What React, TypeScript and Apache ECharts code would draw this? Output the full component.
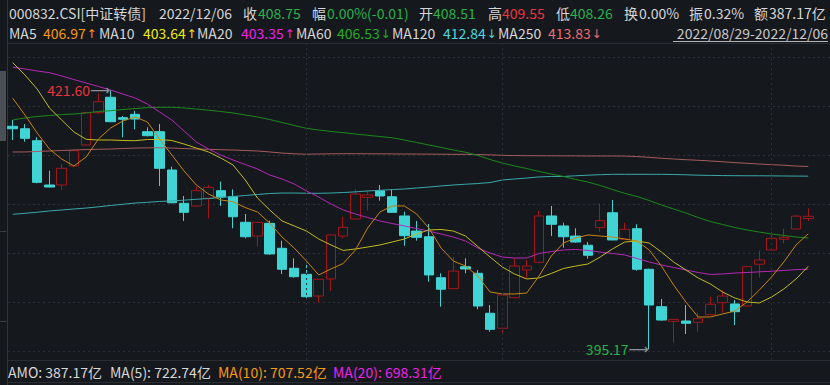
import React, { useEffect, useRef } from 'react';
import * as echarts from 'echarts';

const dates = [
  '2022-08-29', '2022-08-30', '2022-08-31',
  '2022-09-01', '2022-09-02', '2022-09-05', '2022-09-06', '2022-09-07', '2022-09-08', '2022-09-09',
  '2022-09-13', '2022-09-14', '2022-09-15', '2022-09-16', '2022-09-19', '2022-09-20', '2022-09-21',
  '2022-09-22', '2022-09-23', '2022-09-26', '2022-09-27', '2022-09-28', '2022-09-29', '2022-09-30',
  '2022-10-10', '2022-10-11', '2022-10-12', '2022-10-13', '2022-10-14', '2022-10-17', '2022-10-18',
  '2022-10-19', '2022-10-20', '2022-10-21', '2022-10-24', '2022-10-25', '2022-10-26', '2022-10-27',
  '2022-10-28', '2022-10-31',
  '2022-11-01', '2022-11-02', '2022-11-03', '2022-11-04', '2022-11-07', '2022-11-08', '2022-11-09',
  '2022-11-10', '2022-11-11', '2022-11-14', '2022-11-15', '2022-11-16', '2022-11-17', '2022-11-18',
  '2022-11-21', '2022-11-22', '2022-11-23', '2022-11-24', '2022-11-25', '2022-11-28', '2022-11-29',
  '2022-11-30',
  '2022-12-01', '2022-12-02', '2022-12-05', '2022-12-06',
];

const opens = [
  417.93, 417.68, 416.46, 411.94, 411.94, 413.88, 416.02, 419.32, 420.89, 418.81,
  419.15, 417.38, 417.38, 413.47, 410.07, 409.80, 410.58, 411.36, 410.74, 408.13,
  406.73, 408.03, 405.48, 403.44, 402.83, 400.61, 402.35, 406.73, 408.47, 410.68,
  411.36, 410.74, 408.78, 407.24, 406.66, 402.48, 401.36, 403.60, 402.93, 398.85,
  397.32, 400.44, 403.27, 404.05, 408.78, 407.76, 406.73, 405.79, 407.58, 409.11,
  406.40, 407.48, 403.34, 399.52, 398.03, 398.06, 397.93, 398.70, 399.93, 399.80,
  399.59, 403.85, 405.31, 406.40, 407.45, 408.51,
];
const closes = [
  417.68, 416.70, 412.21, 411.73, 413.64, 415.44, 419.32, 420.44, 418.40, 418.64,
  418.67, 416.97, 413.64, 410.13, 409.15, 411.36, 411.70, 410.74, 408.70, 406.66,
  408.13, 404.90, 403.34, 402.58, 400.54, 402.32, 406.84, 407.62, 411.02, 410.92,
  410.82, 409.15, 406.77, 406.60, 402.76, 401.30, 403.16, 403.37, 399.59, 397.21,
  400.71, 403.67, 403.67, 408.78, 407.93, 406.66, 406.12, 404.77, 408.30, 406.33,
  407.42, 403.34, 399.69, 398.16, 398.23, 397.83, 398.30, 399.77, 400.61, 399.01,
  403.60, 404.29, 406.50, 406.60, 408.76, 408.75,
];
const lows = [
  416.53, 416.36, 412.11, 411.70, 411.43, 413.81, 415.95, 419.18, 418.35, 416.81,
  417.62, 416.90, 411.84, 410.07, 408.27, 409.75, 408.54, 409.80, 407.52, 406.50,
  405.64, 404.80, 402.86, 402.48, 400.31, 399.93, 401.15, 406.50, 408.45, 409.32,
  410.34, 409.10, 405.74, 406.26, 402.07, 399.52, 401.33, 402.93, 399.26, 396.97,
  396.87, 400.40, 402.42, 404.00, 406.73, 405.54, 406.05, 404.42, 407.17, 406.30,
  406.33, 403.19, 395.17, 398.09, 395.85, 396.73, 396.97, 398.65, 398.91, 397.65,
  399.55, 402.48, 405.28, 405.99, 407.40, 408.26,
];
const highs = [
  418.57, 418.16, 416.81, 413.40, 414.08, 415.58, 419.40, 421.30, 421.60, 418.98,
  419.49, 417.83, 418.16, 413.81, 410.82, 411.77, 411.94, 412.28, 411.50, 408.98,
  408.16, 408.30, 406.26, 404.46, 404.01, 402.35, 406.90, 408.70, 411.50, 411.36,
  411.94, 411.43, 409.21, 408.27, 407.96, 402.93, 404.62, 404.46, 403.27, 399.69,
  400.75, 404.46, 404.29, 409.29, 409.80, 408.09, 407.52, 406.12, 410.07, 410.41,
  408.09, 407.93, 403.40, 400.31, 398.25, 399.69, 398.95, 400.54, 401.22, 400.20,
  403.67, 405.23, 407.17, 407.48, 408.88, 409.55,
];

const ma5 = [
  420.79, 419.08, 417.24, 415.61, 414.59, 413.88, 414.80, 416.63, 417.76, 418.47,
  418.88, 418.37, 416.63, 415.00, 413.37, 411.94, 411.02, 410.41, 410.23, 409.64,
  409.18, 408.06, 406.63, 405.51, 404.18, 402.76, 403.37, 403.93, 405.31, 407.55,
  409.18, 409.80, 409.80, 408.98, 407.55, 405.51, 404.18, 403.67, 402.65, 401.02,
  400.82, 400.82, 400.92, 402.65, 404.69, 406.02, 406.53, 406.84, 406.73, 406.63,
  406.43, 406.22, 405.31, 403.67, 401.73, 400.00, 398.47, 398.47, 398.78, 399.08,
  400.00, 401.22, 402.55, 404.08, 405.82, 406.97,
];
const ma10 = [
  424.42, 423.16, 421.73, 419.80, 418.57, 417.35, 416.60, 416.53, 416.53, 416.48,
  416.46, 416.58, 416.58, 416.48, 416.12, 415.71, 415.31, 414.69, 413.98, 412.45,
  410.61, 409.39, 408.27, 407.76, 407.24, 406.43, 405.82, 405.26, 405.41, 405.61,
  405.82, 406.12, 406.43, 406.94, 407.35, 407.40, 407.24, 406.73, 405.66, 404.59,
  403.57, 402.86, 402.35, 402.45, 402.91, 403.42, 403.67, 403.88, 404.59, 405.41,
  406.12, 406.22, 406.02, 405.10, 404.08, 403.27, 402.45, 401.84, 401.02, 400.41,
  400.00, 399.90, 400.51, 401.33, 402.35, 403.64,
];
const ma20 = [
  423.95, 423.78, 423.57, 423.40, 423.06, 422.70, 422.35, 421.99, 421.63, 421.22,
  420.82, 420.20, 419.39, 418.57, 417.45, 416.33, 415.61, 415.00, 414.49, 414.03,
  413.57, 412.96, 412.55, 412.04, 411.33, 410.71, 410.00, 409.39, 408.98, 408.62,
  408.27, 408.01, 407.76, 407.50, 407.24, 406.94, 406.63, 406.22, 405.51, 405.00,
  404.59, 404.49, 404.49, 404.95, 405.15, 405.31, 405.36, 405.26, 405.10, 404.95,
  404.80, 404.44, 404.08, 403.78, 403.52, 403.27, 403.01, 402.81, 402.86, 402.96,
  403.01, 403.08, 403.14, 403.22, 403.30, 403.35,
];
const ma60 = [
  418.57, 418.78, 418.93, 419.03, 419.13, 419.18, 419.29, 419.44, 419.52, 419.64,
  419.74, 419.83, 419.87, 419.87, 419.80, 419.69, 419.57, 419.44, 419.29, 419.08,
  418.88, 418.62, 418.32, 418.01, 417.72, 417.55, 417.40, 417.28, 417.14, 417.01,
  416.89, 416.76, 416.53, 416.28, 416.02, 415.77, 415.51, 415.28, 414.95, 414.54,
  414.18, 413.88, 413.62, 413.32, 413.06, 412.81, 412.50, 412.24, 411.89, 411.48,
  411.09, 410.77, 410.36, 409.90, 409.49, 409.08, 408.62, 408.21, 407.91, 407.60,
  407.35, 407.14, 406.94, 406.79, 406.63, 406.53,
];
const ma120 = [
  408.95, 409.05, 409.16, 409.29, 409.39, 409.49, 409.59, 409.71, 409.85, 409.97,
  410.10, 410.17, 410.26, 410.31, 410.39, 410.48, 410.56, 410.66, 410.77, 410.87,
  410.97, 411.07, 411.12, 411.12, 411.10, 411.09, 411.12, 411.17, 411.24, 411.33,
  411.40, 411.47, 411.53, 411.63, 411.73, 411.84, 411.94, 412.02, 412.09, 412.19,
  412.45, 412.55, 412.65, 412.76, 412.81, 412.81, 412.88, 412.94, 412.99, 413.03,
  413.03, 413.03, 413.03, 413.03, 413.01, 412.98, 412.94, 412.92, 412.90, 412.89,
  412.88, 412.88, 412.87, 412.86, 412.85, 412.84,
];
const ma250 = [
  415.31, 415.31, 415.36, 415.41, 415.46, 415.51, 415.56, 415.58, 415.61, 415.66,
  415.71, 415.73, 415.74, 415.71, 415.66, 415.61, 415.58, 415.54, 415.51, 415.46,
  415.41, 415.31, 415.20, 415.12, 415.08, 415.10, 415.12, 415.13, 415.13, 415.13,
  415.12, 415.11, 415.10, 415.10, 415.09, 415.08, 415.07, 415.07, 415.05, 415.01,
  414.97, 414.94, 414.93, 414.92, 414.92, 414.91, 414.91, 414.90, 414.90, 414.90,
  414.89, 414.84, 414.76, 414.67, 414.59, 414.52, 414.46, 414.39, 414.31, 414.22,
  414.15, 414.08, 414.01, 413.96, 413.87, 413.83,
];

const monthStarts = ['2022-10-10', '2022-11-01', '2022-12-01'];
const gridTicks = { min: 395, max: 425, step: 5 };

const BG = '#15181d';
const RED = '#a3171b';
const CYAN = '#40d4d4';
const TXT = '#d6d6d6';
const GREEN_TXT = '#27b24a';
const RED_TXT = '#ec3340';
const FONT = '"Noto Sans CJK SC", "Microsoft YaHei", sans-serif';
const GRIDLINE = '#2c3038';
const SEP = '#2a2d33';

const lineColors = ['#c98512', '#c2bb22', '#b629b6', '#1d8a1d', '#3aa9ad', '#a65b5b'];
const textColors = ['#f59a14', '#eded0c', '#ee22ee', '#22ad22', '#4fd7de', '#ec6e6e'];

function txt(x: number, y: number, text: string, fill: string, extra: any = {}) {
  return {
    type: 'text',
    x,
    y,
    silent: true,
    style: { text, fill, font: `14px ${FONT}`, verticalAlign: 'middle', align: 'left', ...extra },
  };
}

export default function App() {
  const ref = useRef<HTMLDivElement>(null);
  useEffect(() => {
    const chart = echarts.init(ref.current!, null, { renderer: 'svg' });
    const candleData = dates.map((_, i) => [opens[i], closes[i], lows[i], highs[i]]);
    const hiIdx = highs.indexOf(Math.max(...highs));
    const loIdx = lows.indexOf(Math.min(...lows));
    const last = (a: number[]) => a[a.length - 1].toFixed(2);
    const trend = (a: number[]) => (a[a.length - 1] >= a[a.length - 2] ? '↑' : '↓');

    const maNames = ['MA5', 'MA10', 'MA20', 'MA60', 'MA120', 'MA250'];
    const maArrs = [ma5, ma10, ma20, ma60, ma120, ma250];
    const maLabelX = [9, 99, 197, 296, 392, 498];
    const maValX = [43, 143, 241, 337, 443, 548];

    const graphics: any[] = [
      { type: 'line', silent: true, shape: { x1: 8, y1: 43.5, x2: 830, y2: 43.5 }, style: { stroke: SEP, lineWidth: 1 } },
      { type: 'line', silent: true, shape: { x1: 8, y1: 360.5, x2: 830, y2: 360.5 }, style: { stroke: SEP, lineWidth: 1 } },
      { type: 'line', silent: true, shape: { x1: 8, y1: 382.5, x2: 830, y2: 382.5 }, style: { stroke: SEP, lineWidth: 1 } },
      { type: 'line', silent: true, shape: { x1: 7.5, y1: 0, x2: 7.5, y2: 385 }, style: { stroke: '#30343b', lineWidth: 1 } },
      { type: 'rect', silent: true, shape: { x: 0, y: 71, width: 6, height: 70 }, style: { fill: '#4a4e55' } },
      { type: 'line', silent: true, shape: { x1: 0, y1: 231.5, x2: 6, y2: 231.5 }, style: { stroke: '#3a3e45', lineWidth: 1 } },
      { type: 'line', silent: true, shape: { x1: 0, y1: 321.5, x2: 6, y2: 321.5 }, style: { stroke: '#3a3e45', lineWidth: 1 } },
      txt(9, 12.5, '000832.CSI[中证转债]', TXT),
      txt(159, 12.5, '2022/12/06', TXT),
      txt(243, 12.5, '收', TXT),
      txt(258, 12.5, closes[closes.length - 1].toFixed(2), GREEN_TXT),
      txt(312, 12.5, '幅', TXT),
      txt(327, 12.5, '0.00%(-0.01)', GREEN_TXT),
      txt(419, 12.5, '开', TXT),
      txt(433, 12.5, opens[opens.length - 1].toFixed(2), GREEN_TXT),
      txt(488, 12.5, '高', TXT),
      txt(502, 12.5, highs[highs.length - 1].toFixed(2), RED_TXT),
      txt(556, 12.5, '低', TXT),
      txt(570, 12.5, lows[lows.length - 1].toFixed(2), GREEN_TXT),
      txt(624, 12.5, '换', TXT),
      txt(639, 12.5, '0.00%', TXT),
      txt(689, 12.5, '振', TXT),
      txt(704, 12.5, '0.32%', TXT),
      txt(754, 12.5, '额', TXT),
      txt(769, 12.5, '387.17亿', TXT),
      txt(828, 33, '2022/08/29-2022/12/06', '#c9c9c9', { align: 'right' }),
      { type: 'line', silent: true, shape: { x1: 673, y1: 41.5, x2: 828, y2: 41.5 }, style: { stroke: '#b5b5b5', lineWidth: 1 } },
      txt(8, 371.5, 'AMO: 387.17亿', TXT),
      txt(110, 371.5, 'MA(5): 722.74亿', TXT),
      txt(218, 371.5, 'MA(10): 707.52亿', textColors[0]),
      txt(333, 371.5, 'MA(20): 698.31亿', textColors[2]),
    ];
    maNames.forEach((n, i) => {
      graphics.push(txt(maLabelX[i], 33, n, TXT));
      graphics.push(txt(maValX[i], 33, last(maArrs[i]), textColors[i]));
      graphics.push(
        txt(maValX[i] + 43.5, 33.5, trend(maArrs[i]), textColors[i], { font: '12px "DejaVu Sans"' })
      );
    });

    const markLabel = (val: number, color: string) => ({
      show: true,
      position: 'left',
      distance: 0,
      formatter: `{v|${val.toFixed(2)}}{a|⟶}`,
      rich: {
        v: { color, fontSize: 14, fontFamily: FONT },
        a: { color: '#8e939a', fontSize: 14, fontFamily: '"DejaVu Sans"' },
      },
    });

    const option: any = {
      animation: false,
      backgroundColor: BG,
      graphic: { elements: graphics },
      grid: [
        { left: 6.6, right: 15.6, top: 43, bottom: 25 },
        { left: 8, right: 0, top: 57, bottom: 34 },
      ],
      xAxis: [
        { type: 'category', data: dates, gridIndex: 0, boundaryGap: true, show: false },
        { type: 'value', gridIndex: 1, min: 0, max: 1, show: false },
      ],
      yAxis: [
        { type: 'value', gridIndex: 0, min: 394.0816, max: 426.4286, show: false, splitLine: { show: false } },
        {
          type: 'value', gridIndex: 1, min: gridTicks.min, max: gridTicks.max, interval: gridTicks.step,
          axisLabel: { show: false }, axisLine: { show: false }, axisTick: { show: false },
          splitLine: { show: true, lineStyle: { color: GRIDLINE, type: [2, 3], width: 1 } },
        },
      ],
      series: [
        {
          type: 'candlestick',
          xAxisIndex: 0,
          yAxisIndex: 0,
          data: candleData,
          barWidth: 10,
          silent: true,
          itemStyle: { color: BG, color0: CYAN, borderColor: RED, borderColor0: CYAN, borderWidth: 1 },
          markLine: {
            silent: true,
            symbol: 'none',
            label: { show: false },
            lineStyle: { color: GRIDLINE, type: [2, 3], width: 1 },
            data: monthStarts.map((d) => ({ xAxis: d })),
          },
          markPoint: {
            silent: true,
            symbol: 'circle',
            symbolSize: 1,
            itemStyle: { color: 'rgba(0,0,0,0)' },
            data: [
              { coord: [dates[hiIdx], highs[hiIdx]], label: markLabel(highs[hiIdx], RED_TXT) },
              { coord: [dates[loIdx], lows[loIdx]], label: markLabel(lows[loIdx], GREEN_TXT) },
            ],
          },
        },
        ...[ma250, ma120, ma60, ma20, ma10, ma5].map((arr, k) => ({
          type: 'line',
          xAxisIndex: 0,
          yAxisIndex: 0,
          data: arr,
          symbol: 'none',
          silent: true,
          z: 3,
          lineStyle: { width: 1, color: lineColors[5 - k] },
        })),
      ],
    };
    chart.setOption(option);
    return () => chart.dispose();
  }, []);
  return <div ref={ref} style={{ position: 'fixed', left: 0, top: 0, width: 830, height: 385 }} />;
}
